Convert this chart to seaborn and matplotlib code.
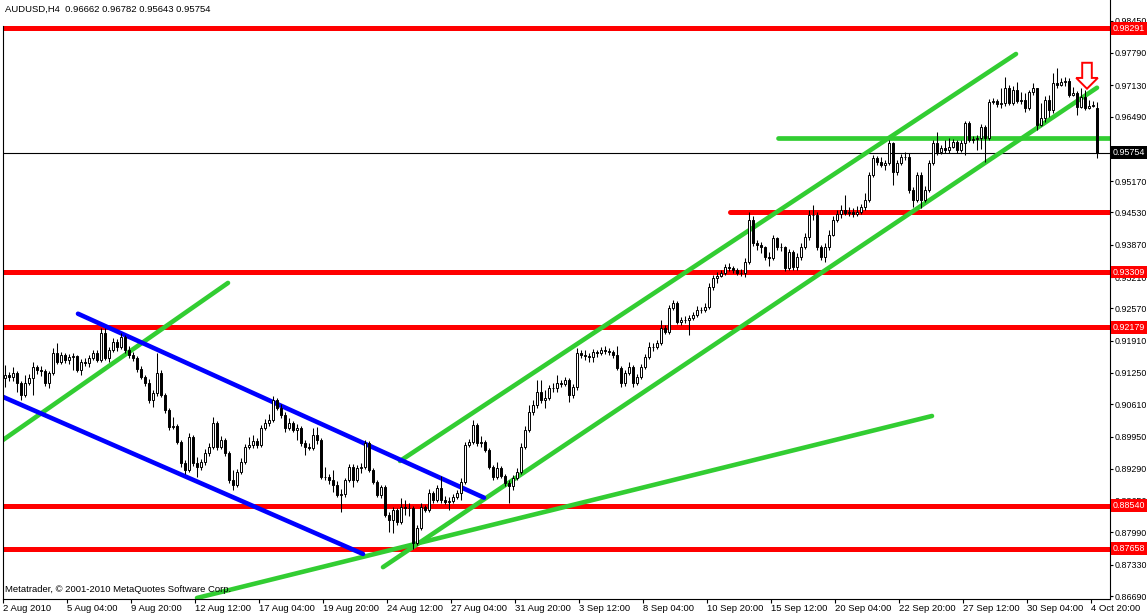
import matplotlib
matplotlib.use("Agg")
import matplotlib.pyplot as plt
import matplotlib.transforms as mtransforms
from matplotlib import font_manager
from matplotlib.patches import FancyArrow
import numpy as np
import pandas as pd
import seaborn as sns

# AUDUSD H4 candles (one entry per bar)
opens = [
    0.9115, 0.9121, 0.9117, 0.9125, 0.9105, 0.9080, 0.9105, 0.9115, 0.9138, 0.9131,
    0.9129, 0.9105, 0.9125, 0.9166, 0.9148, 0.9162, 0.9152, 0.9158, 0.9160, 0.9131,
    0.9148, 0.9146, 0.9156, 0.9166, 0.9152, 0.9207, 0.9156, 0.9172, 0.9189, 0.9178,
    0.9199, 0.9172, 0.9162, 0.9156, 0.9134, 0.9117, 0.9105, 0.9070, 0.9084, 0.9125,
    0.9080, 0.9050, 0.9015, 0.9017, 0.8984, 0.8941, 0.8927, 0.8995, 0.8941, 0.8933,
    0.8943, 0.8962, 0.8974, 0.9023, 0.8974, 0.8988, 0.8962, 0.8907, 0.8896, 0.8923,
    0.8943, 0.8974, 0.8978, 0.8986, 0.8978, 0.9013, 0.9023, 0.9029, 0.9070, 0.9054,
    0.9039, 0.9013, 0.9023, 0.9009, 0.9013, 0.8982, 0.8974, 0.8972, 0.8999, 0.8988,
    0.8913, 0.8913, 0.8907, 0.8896, 0.8876, 0.8878, 0.8907, 0.8933, 0.8907, 0.8931,
    0.8933, 0.8982, 0.8927, 0.8903, 0.8876, 0.8892, 0.8835, 0.8825, 0.8845, 0.8821,
    0.8851, 0.8849, 0.8849, 0.8778, 0.8809, 0.8851, 0.8845, 0.8880, 0.8866, 0.8890,
    0.8866, 0.8862, 0.8864, 0.8872, 0.8880, 0.8903, 0.8978, 0.8984, 0.9019, 0.8982,
    0.8984, 0.8968, 0.8933, 0.8913, 0.8931, 0.8915, 0.8901, 0.8894, 0.8911, 0.8923,
    0.8974, 0.9009, 0.9046, 0.9060, 0.9087, 0.9070, 0.9074, 0.9095, 0.9095, 0.9105,
    0.9103, 0.9111, 0.9080, 0.9097, 0.9166, 0.9162, 0.9160, 0.9158, 0.9168, 0.9166,
    0.9172, 0.9170, 0.9168, 0.9162, 0.9136, 0.9105, 0.9125, 0.9138, 0.9105, 0.9117,
    0.9138, 0.9158, 0.9178, 0.9178, 0.9187, 0.9217, 0.9209, 0.9258, 0.9268, 0.9230,
    0.9234, 0.9234, 0.9238, 0.9244, 0.9254, 0.9254, 0.9260, 0.9301, 0.9320, 0.9324,
    0.9330, 0.9342, 0.9340, 0.9336, 0.9330, 0.9330, 0.9352, 0.9438, 0.9391, 0.9387,
    0.9383, 0.9362, 0.9360, 0.9401, 0.9383, 0.9383, 0.9340, 0.9373, 0.9342, 0.9362,
    0.9383, 0.9403, 0.9448, 0.9448, 0.9383, 0.9362, 0.9383, 0.9407, 0.9438, 0.9450,
    0.9459, 0.9452, 0.9454, 0.9450, 0.9454, 0.9465, 0.9479, 0.9530, 0.9565, 0.9557,
    0.9551, 0.9555, 0.9595, 0.9536, 0.9555, 0.9567, 0.9567, 0.9499, 0.9479, 0.9530,
    0.9479, 0.9499, 0.9555, 0.9595, 0.9577, 0.9585, 0.9581, 0.9587, 0.9598, 0.9581,
    0.9595, 0.9636, 0.9602, 0.9604, 0.9606, 0.9628, 0.9606, 0.9679, 0.9681, 0.9675,
    0.9677, 0.9708, 0.9677, 0.9704, 0.9681, 0.9683, 0.9667, 0.9700, 0.9708, 0.9632,
    0.9647, 0.9683, 0.9663, 0.9718, 0.9714, 0.9720, 0.9722, 0.9694, 0.9698, 0.9669,
    0.9689, 0.9667, 0.9671, 0.96662,
]
highs = [
    0.9142, 0.9127, 0.9138, 0.9129, 0.9109, 0.9121, 0.9123, 0.9148, 0.9142, 0.9140,
    0.9134, 0.9129, 0.9176, 0.9187, 0.9168, 0.9166, 0.9164, 0.9166, 0.9162, 0.9154,
    0.9156, 0.9162, 0.9172, 0.9172, 0.9217, 0.9217, 0.9178, 0.9197, 0.9195, 0.9207,
    0.9203, 0.9181, 0.9168, 0.9160, 0.9140, 0.9121, 0.9113, 0.9091, 0.9166, 0.9131,
    0.9084, 0.9054, 0.9035, 0.9021, 0.8988, 0.8948, 0.9003, 0.8999, 0.8954, 0.8950,
    0.8970, 0.8982, 0.9035, 0.9027, 0.8997, 0.8992, 0.8966, 0.8927, 0.8929, 0.8952,
    0.8980, 0.8995, 0.8999, 0.8992, 0.9019, 0.9031, 0.9042, 0.9078, 0.9074, 0.9062,
    0.9046, 0.9033, 0.9027, 0.9021, 0.9017, 0.8988, 0.8982, 0.9013, 0.9015, 0.8992,
    0.8933, 0.8919, 0.8927, 0.8905, 0.8888, 0.8911, 0.8939, 0.8939, 0.8937, 0.8941,
    0.8988, 0.8986, 0.8931, 0.8907, 0.8896, 0.8896, 0.8841, 0.8851, 0.8849, 0.8870,
    0.8866, 0.8860, 0.8853, 0.8815, 0.8860, 0.8856, 0.8888, 0.8884, 0.8896, 0.8915,
    0.8874, 0.8872, 0.8878, 0.8886, 0.8911, 0.8984, 0.8990, 0.9029, 0.9023, 0.8997,
    0.8988, 0.8972, 0.8937, 0.8943, 0.8935, 0.8919, 0.8907, 0.8917, 0.8931, 0.8982,
    0.9017, 0.9060, 0.9070, 0.9111, 0.9111, 0.9091, 0.9101, 0.9105, 0.9121, 0.9111,
    0.9117, 0.9115, 0.9103, 0.9176, 0.9172, 0.9172, 0.9166, 0.9174, 0.9172, 0.9178,
    0.9180, 0.9176, 0.9172, 0.9181, 0.9140, 0.9131, 0.9148, 0.9142, 0.9123, 0.9144,
    0.9164, 0.9189, 0.9187, 0.9193, 0.9234, 0.9223, 0.9264, 0.9275, 0.9273, 0.9240,
    0.9242, 0.9244, 0.9250, 0.9262, 0.9260, 0.9268, 0.9309, 0.9326, 0.9332, 0.9336,
    0.9348, 0.9350, 0.9344, 0.9340, 0.9338, 0.9360, 0.9454, 0.9446, 0.9397, 0.9393,
    0.9385, 0.9373, 0.9407, 0.9403, 0.9391, 0.9385, 0.9379, 0.9377, 0.9371, 0.9391,
    0.9412, 0.9459, 0.9469, 0.9454, 0.9387, 0.9391, 0.9418, 0.9446, 0.9459, 0.9469,
    0.9489, 0.9465, 0.9463, 0.9467, 0.9471, 0.9493, 0.9536, 0.9571, 0.9569, 0.9567,
    0.9561, 0.9602, 0.9598, 0.9561, 0.9573, 0.9577, 0.9575, 0.9506, 0.9536, 0.9536,
    0.9508, 0.9561, 0.9602, 0.9618, 0.9591, 0.9602, 0.9606, 0.9604, 0.9602, 0.9602,
    0.9640, 0.9640, 0.9610, 0.9612, 0.9634, 0.9632, 0.9685, 0.9687, 0.9685, 0.9708,
    0.9730, 0.9714, 0.9712, 0.9720, 0.9700, 0.9698, 0.9704, 0.9718, 0.9708, 0.9677,
    0.9691, 0.9694, 0.9739, 0.9749, 0.9728, 0.9730, 0.9728, 0.9710, 0.9702, 0.9708,
    0.9704, 0.9683, 0.9681, 0.96782,
]
lows = [
    0.9097, 0.9109, 0.9109, 0.9087, 0.9070, 0.9076, 0.9101, 0.9080, 0.9123, 0.9119,
    0.9099, 0.9095, 0.9121, 0.9144, 0.9144, 0.9146, 0.9144, 0.9131, 0.9127, 0.9121,
    0.9140, 0.9138, 0.9152, 0.9148, 0.9148, 0.9152, 0.9148, 0.9168, 0.9170, 0.9174,
    0.9166, 0.9156, 0.9150, 0.9127, 0.9113, 0.9099, 0.9064, 0.9056, 0.9078, 0.9076,
    0.9044, 0.9009, 0.9011, 0.8980, 0.8933, 0.8919, 0.8923, 0.8935, 0.8913, 0.8927,
    0.8937, 0.8956, 0.8970, 0.8968, 0.8970, 0.8956, 0.8901, 0.8886, 0.8892, 0.8919,
    0.8939, 0.8970, 0.8972, 0.8972, 0.8974, 0.9009, 0.9017, 0.9025, 0.9050, 0.9033,
    0.9005, 0.9009, 0.9005, 0.8988, 0.8976, 0.8958, 0.8968, 0.8968, 0.8980, 0.8909,
    0.8907, 0.8898, 0.8882, 0.8872, 0.8841, 0.8872, 0.8903, 0.8892, 0.8903, 0.8921,
    0.8929, 0.8923, 0.8898, 0.8872, 0.8870, 0.8831, 0.8800, 0.8798, 0.8815, 0.8817,
    0.8835, 0.8833, 0.8766, 0.8774, 0.8804, 0.8841, 0.8841, 0.8860, 0.8862, 0.8860,
    0.8858, 0.8845, 0.8860, 0.8868, 0.8866, 0.8898, 0.8974, 0.8980, 0.8976, 0.8974,
    0.8964, 0.8929, 0.8907, 0.8909, 0.8911, 0.8894, 0.8860, 0.8886, 0.8907, 0.8919,
    0.8970, 0.9005, 0.9039, 0.9054, 0.9064, 0.9054, 0.9070, 0.9087, 0.9087, 0.9097,
    0.9099, 0.9066, 0.9074, 0.9091, 0.9156, 0.9152, 0.9148, 0.9148, 0.9158, 0.9162,
    0.9164, 0.9162, 0.9156, 0.9131, 0.9097, 0.9099, 0.9121, 0.9097, 0.9101, 0.9113,
    0.9134, 0.9154, 0.9170, 0.9174, 0.9183, 0.9205, 0.9205, 0.9254, 0.9226, 0.9223,
    0.9228, 0.9203, 0.9234, 0.9240, 0.9248, 0.9250, 0.9256, 0.9295, 0.9309, 0.9322,
    0.9326, 0.9334, 0.9330, 0.9326, 0.9324, 0.9322, 0.9348, 0.9385, 0.9377, 0.9371,
    0.9356, 0.9344, 0.9356, 0.9377, 0.9375, 0.9334, 0.9336, 0.9336, 0.9336, 0.9356,
    0.9379, 0.9397, 0.9438, 0.9377, 0.9356, 0.9352, 0.9377, 0.9405, 0.9434, 0.9442,
    0.9448, 0.9446, 0.9444, 0.9446, 0.9450, 0.9459, 0.9475, 0.9526, 0.9551, 0.9546,
    0.9540, 0.9551, 0.9510, 0.9530, 0.9551, 0.9561, 0.9493, 0.9465, 0.9475, 0.9463,
    0.9475, 0.9495, 0.9551, 0.9571, 0.9573, 0.9575, 0.9575, 0.9585, 0.9575, 0.9577,
    0.9571, 0.9598, 0.9595, 0.9581, 0.9583, 0.9557, 0.9602, 0.9675, 0.9669, 0.9667,
    0.9671, 0.9673, 0.9673, 0.9677, 0.9675, 0.9659, 0.9663, 0.9694, 0.9622, 0.9630,
    0.9638, 0.9649, 0.9657, 0.9708, 0.9712, 0.9712, 0.9689, 0.9692, 0.9653, 0.9667,
    0.9663, 0.9665, 0.9669, 0.95643,
]
closes = [
    0.9121, 0.9117, 0.9125, 0.9105, 0.9080, 0.9105, 0.9115, 0.9138, 0.9131, 0.9129,
    0.9105, 0.9125, 0.9166, 0.9148, 0.9162, 0.9152, 0.9158, 0.9160, 0.9131, 0.9148,
    0.9146, 0.9156, 0.9166, 0.9152, 0.9207, 0.9156, 0.9172, 0.9189, 0.9178, 0.9199,
    0.9172, 0.9162, 0.9156, 0.9134, 0.9117, 0.9105, 0.9070, 0.9084, 0.9125, 0.9080,
    0.9050, 0.9015, 0.9017, 0.8984, 0.8941, 0.8927, 0.8995, 0.8941, 0.8933, 0.8943,
    0.8962, 0.8974, 0.9023, 0.8974, 0.8988, 0.8962, 0.8907, 0.8896, 0.8923, 0.8943,
    0.8974, 0.8978, 0.8986, 0.8978, 0.9013, 0.9023, 0.9029, 0.9070, 0.9054, 0.9039,
    0.9013, 0.9023, 0.9009, 0.9013, 0.8982, 0.8974, 0.8972, 0.8999, 0.8988, 0.8913,
    0.8913, 0.8907, 0.8896, 0.8876, 0.8878, 0.8907, 0.8933, 0.8907, 0.8931, 0.8933,
    0.8982, 0.8927, 0.8903, 0.8876, 0.8892, 0.8835, 0.8825, 0.8845, 0.8821, 0.8851,
    0.8849, 0.8849, 0.8778, 0.8809, 0.8851, 0.8845, 0.8880, 0.8866, 0.8890, 0.8866,
    0.8862, 0.8864, 0.8872, 0.8880, 0.8903, 0.8978, 0.8984, 0.9019, 0.8982, 0.8984,
    0.8968, 0.8933, 0.8913, 0.8931, 0.8915, 0.8901, 0.8894, 0.8911, 0.8923, 0.8974,
    0.9009, 0.9046, 0.9060, 0.9087, 0.9070, 0.9074, 0.9095, 0.9095, 0.9105, 0.9103,
    0.9111, 0.9080, 0.9097, 0.9166, 0.9162, 0.9160, 0.9158, 0.9168, 0.9166, 0.9172,
    0.9170, 0.9168, 0.9162, 0.9136, 0.9105, 0.9125, 0.9138, 0.9105, 0.9117, 0.9138,
    0.9158, 0.9178, 0.9178, 0.9187, 0.9217, 0.9209, 0.9258, 0.9268, 0.9230, 0.9234,
    0.9234, 0.9238, 0.9244, 0.9254, 0.9254, 0.9260, 0.9301, 0.9320, 0.9324, 0.9330,
    0.9342, 0.9340, 0.9336, 0.9330, 0.9330, 0.9352, 0.9438, 0.9391, 0.9387, 0.9383,
    0.9362, 0.9360, 0.9401, 0.9383, 0.9383, 0.9340, 0.9373, 0.9342, 0.9362, 0.9383,
    0.9403, 0.9448, 0.9448, 0.9383, 0.9362, 0.9383, 0.9407, 0.9438, 0.9450, 0.9459,
    0.9452, 0.9454, 0.9450, 0.9454, 0.9465, 0.9479, 0.9530, 0.9565, 0.9557, 0.9551,
    0.9555, 0.9595, 0.9536, 0.9555, 0.9567, 0.9567, 0.9499, 0.9479, 0.9530, 0.9479,
    0.9499, 0.9555, 0.9595, 0.9577, 0.9585, 0.9581, 0.9587, 0.9598, 0.9581, 0.9595,
    0.9636, 0.9602, 0.9604, 0.9606, 0.9628, 0.9606, 0.9679, 0.9681, 0.9675, 0.9677,
    0.9708, 0.9677, 0.9704, 0.9681, 0.9683, 0.9667, 0.9700, 0.9708, 0.9632, 0.9647,
    0.9683, 0.9663, 0.9718, 0.9714, 0.9720, 0.9722, 0.9694, 0.9698, 0.9669, 0.9689,
    0.9667, 0.9671, 0.9673, 0.95754,
]

# time axis labels (every 16th bar)
date_label_bars = [0, 16, 32, 48, 64, 80, 96, 112, 128, 144, 160, 176, 192, 208, 224, 240, 256, 272]
date_labels = ["2 Aug 2010", "5 Aug 04:00", "9 Aug 20:00", "12 Aug 12:00", "17 Aug 04:00",
               "19 Aug 20:00", "24 Aug 12:00", "27 Aug 04:00", "31 Aug 20:00", "3 Sep 12:00",
               "8 Sep 04:00", "10 Sep 20:00", "15 Sep 12:00", "20 Sep 04:00", "22 Sep 20:00",
               "27 Sep 12:00", "30 Sep 04:00", "4 Oct 20:00"]
price_ticks = [0.98450, 0.97790, 0.97130, 0.96490, 0.95830, 0.95170, 0.94530, 0.93870,
               0.93210, 0.92570, 0.91910, 0.91250, 0.90610, 0.89950, 0.89290, 0.88650,
               0.87990, 0.87330, 0.86690]

# horizontal levels
red_levels = [0.98291, 0.93309, 0.92179, 0.88540, 0.87658]
red_short_level = 0.9454
red_short_start = 181.25
green_level = 0.9606
green_level_start = 193.25
last_price = 0.95754

# trend lines: start bar, start price, end bar, end price
green_start_bar = [-0.5, 98.75, 94.5, 48.0]
green_start_price = [0.8988, 0.8945, 0.8728, 0.8665]
green_end_bar = [55.75, 252.75, 273.0, 231.75]
green_end_price = [0.9309, 0.9777, 0.9708, 0.9037]
blue_start_bar = [18.25, -0.5]
blue_start_price = [0.9246, 0.9076]
blue_end_bar = [119.75, 89.5]
blue_end_price = [0.8870, 0.8755]

# sell arrow
arrow_bar = 270.5
arrow_top = 0.9759
arrow_tip = 0.9706

RED = "#ff0000"
GREEN = "#32cd32"
BLUE = "#0000ff"

sns.set_theme(style="white")

# narrow terminal-like font; fall back to a smaller regular face
try:
    font_manager.findfont(font_manager.FontProperties(family="Liberation Sans Narrow"),
                          fallback_to_default=False)
    FAM, FS, FS_Y = "Liberation Sans Narrow", 8, 8
except ValueError:
    FAM, FS, FS_Y = "Liberation Sans", 6.8, 6.4
plt.rcParams["font.family"] = [FAM, "DejaVu Sans"]
plt.rcParams["text.color"] = "black"

W, H = 1147, 616
fig = plt.figure(figsize=(W / 100, H / 100), dpi=100)
ax = fig.add_axes([3 / W, 17 / H, 1107 / W, 599 / H])

df = pd.DataFrame({"open": opens, "high": highs, "low": lows, "close": closes})
df["bar"] = np.arange(len(df))
up = df["close"] >= df["open"]

# candles: wicks then bodies
ax.vlines(df["bar"], df["low"], df["high"], color="black", lw=0.75, zorder=3)
ax.bar(df["bar"], (df["close"] - df["open"]).abs(), bottom=df[["open", "close"]].min(axis=1),
       width=0.6, color=np.where(up, "white", "black"), edgecolor="black",
       linewidth=0.7, zorder=4)

# horizontal levels
for lvl in red_levels:
    ax.axhline(lvl, color=RED, lw=3.6, zorder=1)
ax.plot([red_short_start, 276.25], [red_short_level] * 2, color=RED, lw=3.6,
        solid_capstyle="round", zorder=1)
ax.plot([green_level_start, 276.25], [green_level] * 2, color=GREEN, lw=3.4,
        solid_capstyle="round", zorder=2)
ax.axhline(last_price, color="black", lw=0.8, zorder=1.5)

# trend lines through seaborn
rows = []
for k in range(len(green_start_bar)):
    rows.append(("g%d" % k, green_start_bar[k], green_start_price[k]))
    rows.append(("g%d" % k, green_end_bar[k], green_end_price[k]))
for k in range(len(blue_start_bar)):
    rows.append(("b%d" % k, blue_start_bar[k], blue_start_price[k]))
    rows.append(("b%d" % k, blue_end_bar[k], blue_end_price[k]))
lines = pd.DataFrame(rows, columns=["line", "bar", "price"])
pal = {name: (BLUE if name.startswith("b") else GREEN) for name in lines["line"].unique()}
sns.lineplot(data=lines, x="bar", y="price", hue="line", palette=pal, legend=False,
             estimator=None, sort=False, lw=3.3, solid_capstyle="round", ax=ax, zorder=2)

arrow = FancyArrow(arrow_bar, arrow_top, 0, arrow_tip - arrow_top, width=2.4,
                   head_width=5.4, head_length=0.0022, length_includes_head=True,
                   fc="white", ec=RED, lw=1.4, zorder=7)
ax.add_patch(arrow)

ax.set_xlim(-0.5, 276.25)
ax.set_ylim(0.86629, 0.98873)
ax.set_xlabel("")
ax.set_ylabel("")

# axes frame like the terminal
ax.spines["top"].set_visible(False)
for side in ["left", "right", "bottom"]:
    ax.spines[side].set_color("black")
    ax.spines[side].set_linewidth(0.8)
ax.spines["left"].set_bounds(0.86629, 0.9834)

ax.yaxis.tick_right()
ax.set_yticks(price_ticks)
ax.set_yticklabels([f"{p:.5f}" for p in price_ticks])
ax.tick_params(axis="y", right=True, left=False, labelright=True, labelleft=False,
               length=2.5, width=0.8, pad=0.8, labelsize=FS_Y, colors="black", direction="out")
ax.set_xticks([b - 0.5 for b in date_label_bars])
ax.set_xticklabels(date_labels)
ax.tick_params(axis="x", bottom=True, length=3, width=0.8, pad=0.5, labelsize=FS,
               colors="black", direction="out")
for lbl in ax.get_xticklabels():
    lbl.set_horizontalalignment("left")

# price tags on the scale
tr = mtransforms.blended_transform_factory(ax.transAxes, ax.transData)
for lvl in red_levels:
    ax.text(1.0025, lvl, f"{lvl:.5f}", transform=tr, ha="left", va="center", fontsize=FS_Y,
            color="white", clip_on=False, zorder=8,
            bbox=dict(boxstyle="square,pad=0.2", fc=RED, ec="none"))
ax.text(1.0025, last_price, f"{last_price:.5f}", transform=tr, ha="left", va="center",
        fontsize=FS_Y, color="white", clip_on=False, zorder=8,
        bbox=dict(boxstyle="square,pad=0.2", fc="black", ec="none"))

fig.text(5 / W, 1 - 9 / H, "AUDUSD,H4  0.96662 0.96782 0.95643 0.95754", fontsize=FS,
         ha="left", va="center", color="black")
fig.text(5 / W, 1 - 590 / H, "Metatrader, \u00a9 2001-2010 MetaQuotes Software Corp.",
         fontsize=FS, ha="left", va="center", color="black")

fig.savefig("out.png", dpi=100, facecolor="white")
